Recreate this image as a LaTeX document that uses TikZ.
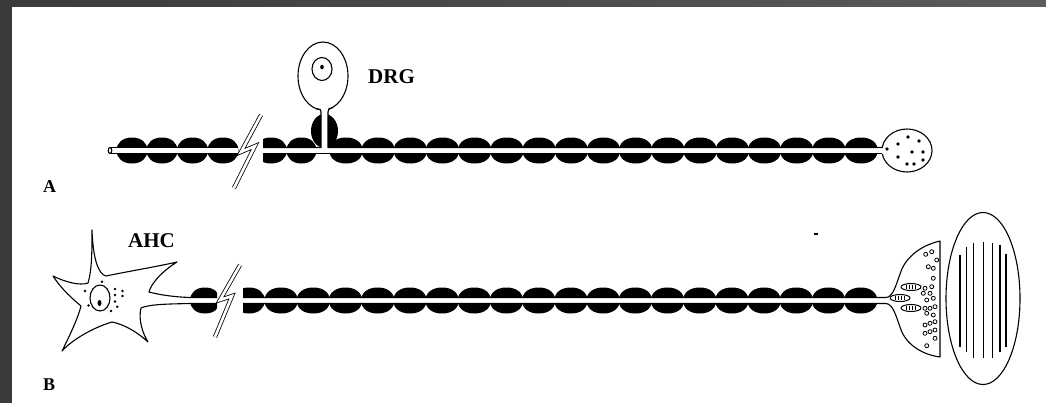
\documentclass[tikz,border=0pt]{standalone}
\usepackage{fontspec}
\setmainfont{Liberation Serif}
\definecolor{slidedark}{RGB}{58,58,58}
\definecolor{slidelight}{RGB}{92,92,92}

\begin{document}
\begin{tikzpicture}[x=1pt,y=-1pt,line join=round,
  fibre/.style={line width=1.1pt},
  brk/.style={double,double distance=2.6pt,line width=0.8pt,line join=miter},
  tag/.style={font=\bfseries\fontsize{21}{25}\selectfont,inner sep=0pt},
  panel/.style={font=\bfseries\fontsize{18}{22}\selectfont,inner sep=0pt},
  sheath/.pic={\fill(-16.6,0) .. controls (-16.6,-7.8) and (-10,-\mh) .. (0,-\mh)
      .. controls (10,-\mh) and (16.6,-7.8) .. (16.6,0)
      .. controls (16.6,7.8) and (10,\mh) .. (0,\mh)
      .. controls (-10,\mh) and (-16.6,7.8) .. cycle;}]
\useasboundingbox (0,0) rectangle (1046,402);
%
% slide frame and white page
\fill[left color=slidedark,right color=slidelight] (0,0) rectangle (1046,402);
\fill[white] (12,7) rectangle (1052,408);
%
%''''''''''''''''''''''''''''fibre parameters'''''''''''''''''''''''''''''''''''''''''''''
\def\ya{150.5}  % axis of fibre A
\def\yb{300.5}  % axis of fibre B
\def\aw{3}      % half width of the axon
\def\mh{13}     % half height of a myelin segment
\def\gap{32.2}  % internode length
%''''''''''''''''''''''''''''''''''''''''''''''''''''''''''''''''''''''''''''''''''''''''''
%
%===================== A: sensory fibre =====================
% DRG cell body with nucleus
\draw[fibre,fill=white](323,76) ellipse [x radius=25,y radius=34];
\draw[fibre](322,69) ellipse [x radius=10,y radius=11.5];
\fill(322,67) ellipse [x radius=1.8,y radius=2.3];
%
% myelin on the stem and along the axon
\fill(324.5,131) ellipse [x radius=13.5,y radius=17];
\foreach \c in {132,162,192.5,223}
  \pic[xscale=0.93] at (\c,\ya) {sheath};
\pic[xscale=0.9] at (301.5,\ya) {sheath};
\pic at (346,\ya) {sheath};
\begin{scope}
  \clip(263,130) rectangle (290,170);
  \pic[xscale=0.95] at (271,\ya) {sheath};
\end{scope}
\foreach \k in {0,...,15}
  \pic at ({362+\gap*(\k+0.5)},\ya) {sheath};
%
% sensory ending
\draw[fibre,fill=white](907,\ya) ellipse [x radius=25,y radius=21.5];
\foreach \p in {(908,137),(919,141),(898,144),(887,149),(912,152),(923,152),
                (898,157),(923,160),(907,164),(914,164)}
  \fill \p circle (1.8);
%
% axon and stem
\fill[white](110,{\ya-\aw}) rectangle (238,{\ya+\aw});
\fill[white](263,{\ya-\aw}) rectangle (884,{\ya+\aw});
\fill[white](321,104) rectangle (328,150);
\draw[fibre](238,{\ya-\aw})--(111,{\ya-\aw});
\draw[fibre](238,{\ya+\aw})--(111,{\ya+\aw});
\draw[fibre](110,\ya) ellipse [x radius=1.8,y radius=3];
\draw[fibre](263,{\ya-\aw})--(321,{\ya-\aw})--(321,112) .. controls (321,109.6) .. (316,108.6);
\draw[fibre](333,107.3) .. controls (328,109.6) .. (328,112)--(328,{\ya-\aw})--(882.3,{\ya-\aw});
\draw[fibre](263,{\ya+\aw})--(882.3,{\ya+\aw});
%
% cut in the fibre
\draw[brk](261,115)--(241,152)--(255,146)--(234,188);
%
\node[tag,anchor=base west] (drg) at (368,83) {DRG};
\node[panel,anchor=base west] (panelA) at (43,192) {A};
%
%===================== B: motor fibre =====================
% myelin along the axon
\begin{scope}
  \clip(180,280) rectangle (217,320);
  \pic[xscale=0.9] at (205,\yb) {sheath};
\end{scope}
\begin{scope}
  \clip(243,280) rectangle (270,320);
  \pic[xscale=0.95] at (249,\yb) {sheath};
\end{scope}
\foreach \k in {0,...,18}
  \pic at ({265+\gap*(\k+0.5)},\yb) {sheath};
%
% AHC cell body, its processes and the start of the axon
\draw[fibre,fill=white](217,{\yb-\aw})--(190,{\yb-\aw})
  .. controls (175,297) and (160,295) .. (149,292)
  .. controls (151,284) and (161,272) .. (177,262)
  .. controls (160,266) and (125,272) .. (106,276)
  .. controls (98,274) and (93,258) .. (92,230)
  .. controls (92,250) and (92,270) .. (88,283)
  .. controls (80,286) and (65,282) .. (53,276)
  .. controls (62,290) and (74,300) .. (81,306)
  .. controls (78,318) and (70,335) .. (62,351)
  .. controls (72,340) and (92,328) .. (112,322)
  .. controls (122,324) and (135,330) .. (148,342)
  .. controls (143,334) and (138,320) .. (141,308)
  .. controls (150,304) and (170,304) .. (190,{\yb+\aw})--(217,{\yb+\aw});
\draw[fibre](100,298) ellipse [x radius=10,y radius=13];
\fill(99.5,303) ellipse [x radius=2,y radius=3];
\foreach \p in {(102,281.7),(85,291),(88.5,305.5),(115,289),(122.5,291),(115,295),
                (122.5,296),(115,301.5),(117.3,306.7),(111,311)}
  \fill \p circle (1.4);
%
% axon and end plate
\draw[fibre,fill=white](243,{\yb-\aw})--(886,{\yb-\aw})
  .. controls (893,297) and (896,285) .. (900,274)
  .. controls (904,260) and (918,246) .. (940,241)--(940,357)
  .. controls (918,354) and (904,341) .. (900,327)
  .. controls (896,316) and (893,304) .. (886,{\yb+\aw})--(243,{\yb+\aw});
\foreach \mx/\my in {911/287,900/298,911/308}{
  \draw[line width=1pt](\mx,\my) ellipse [x radius=10,y radius=3.5];
  \foreach \d in {-4.5,-1.5,1.5,4.5}
    \draw[line width=0.8pt]({\mx+\d},{\my-2.2})--({\mx+\d},{\my+2.2});
}
\foreach \p in {(925.7,254.3),(931.7,251.7),(936.7,260),(928.3,266.7),(933.3,268.3),
                (933.3,278.3),(925,288.3),(931.7,286.7),(923.3,293.3),(930,293.3),
                (933.3,298.3),(926.7,300),(925,308.3),(930,308.3),(935,306.7),
                (926.7,313.3),(933.3,315),(925,325),(930,323.3),(935,321.7),
                (925,333.3),(930,331.7),(935,330),(935,338.3),(926.7,345.7)}
  \draw[line width=0.8pt] \p circle (2);
%
% muscle fibre with striations
\draw[fibre](983,298.5) ellipse [x radius=37,y radius=86];
\foreach \x/\t/\b in {960/255/347,966.7/247/352,973.3/243/358,983.3/242/358,
                      992.3/243/358,1000/245/352,1006/254/347}
  \draw[line width=1.1pt](\x,\t)--(\x,\b);
\fill(814,232.5) rectangle (818,234.5);
%
% cut in the fibre
\draw[brk](240,265)--(220,300)--(232,296)--(215,337);
%
\node[tag,anchor=base west] (ahc) at (128,247) {AHC};
\node[panel,anchor=base west] (panelB) at (43,390) {B};
%
\end{tikzpicture}
\end{document}
